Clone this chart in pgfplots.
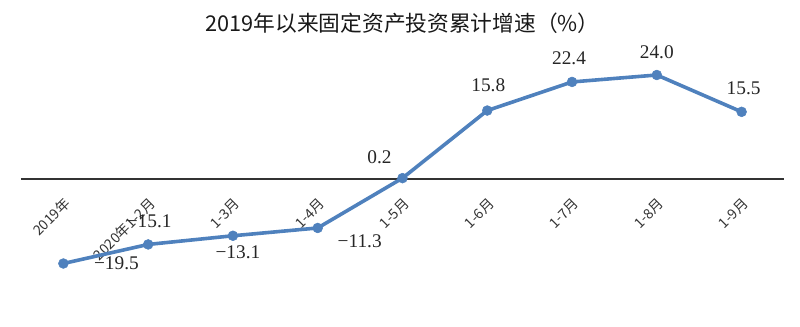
\documentclass[border=0pt]{standalone}
\usepackage{pgfplots}
\pgfplotsset{compat=1.18}
\usepackage{fontspec}
\setmainfont{Liberation Serif}
\newfontfamily\cjk{Noto Sans CJK SC}
\definecolor{lineblue}{RGB}{79,129,189}
\pgfplotstableread{
x y lab dx dy
0 -19.5 −19.5 39.75 0
1 -15.1 −15.1 0.75 17.25
2 -13.1 −13.1 3.75 -12
3 -11.3 −11.3 31.5 -9.75
4 0.2 0.2 -17.25 15.75
5 15.8 15.8 0.75 18.75
6 22.4 22.4 -2.25 18
7 24.0 24.0 0 17.25
8 15.5 15.5 1.5 18
}\datatable
\begin{document}
\begin{tikzpicture}
\begin{axis}[
  scale only axis, width=572.25pt, height=195pt,
  xmin=-0.5, xmax=8.5, ymin=-30, ymax=30,
  axis x line=middle, axis y line=none,
  hide obscured x ticks=false,
  x axis line style={-, draw=black!80, line width=0.8pt},
  xtick={0,...,8}, major tick length=0pt,
  xticklabels={2019年,2020年1-2月,1-3月,1-4月,1-5月,1-6月,1-7月,1-8月,1-9月},
  xticklabel style={font=\cjk\fontsize{10.5}{11}\selectfont, rotate=45, anchor=east, xshift=-6pt, yshift=-14pt, text=black!80},
  clip=false,
]
\coordinate (O) at (rel axis cs:0,0);
\node[font=\cjk\fontsize{16.3}{19}\selectfont, text=black!90] at ([yshift=19pt]rel axis cs:0.5,1) {2019年以来固定资产投资累计增速（\%）};
\addplot[lineblue, line width=2.7pt, mark=*, mark size=3.7pt,
  mark options={fill=lineblue, draw=lineblue, line width=0.4pt},
  nodes near coords, point meta=explicit symbolic,
  visualization depends on={\thisrow{dx} \as \dx},
  visualization depends on={\thisrow{dy} \as \dy},
  every node near coord/.append style={anchor=center, xshift=\dx*1pt, yshift=\dy*1pt,
    font=\fontsize{14.5}{16}\selectfont, text=black!85}]
  table[x=x, y=y, meta=lab] {\datatable};
\end{axis}
\pgfresetboundingbox
\path[use as bounding box] ([xshift=-15.75pt,yshift=-12.75pt]O) rectangle ++(600pt,244.5pt);
\end{tikzpicture}
\end{document}
